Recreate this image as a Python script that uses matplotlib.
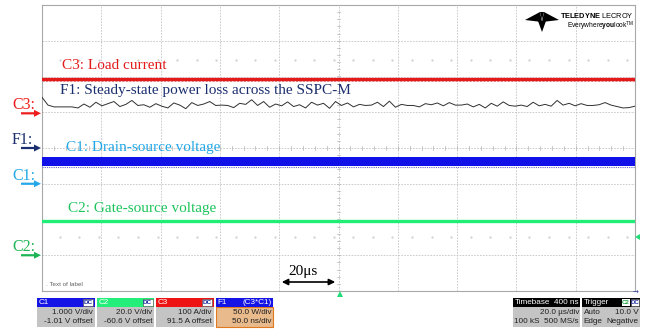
import numpy as np
import matplotlib
matplotlib.use('Agg')
import matplotlib.pyplot as plt
from matplotlib.patches import Rectangle, Polygon, FancyArrow

plt.rcParams['mathtext.fontset'] = 'custom'
plt.rcParams['mathtext.rm'] = 'Liberation Sans'
plt.rcParams['mathtext.bf'] = 'Liberation Sans:bold'

# screen positions of the traces, in divisions (10 x 8 grid, centre = 0)
c3_level = 1.93
c1_top = -0.24
c1_bottom = -0.50
c2_level = -2.03

# F1 power loss trace (divisions), 100 points over 10 div
f1_trace = [1.42, 1.20, 1.15, 1.15, 1.15, 1.15, 1.12, 1.23, 1.14, 1.28,
            1.18, 1.24, 1.30, 1.16, 1.22, 1.33, 1.19, 1.21, 1.14, 1.24,
            1.17, 1.12, 1.26, 1.20, 1.10, 1.27, 1.19, 1.23, 1.30, 1.19,
            1.20, 1.19, 1.13, 1.25, 1.22, 1.35, 1.19, 1.30, 1.14, 1.23,
            1.18, 1.29, 1.16, 1.21, 1.12, 1.28, 1.20, 1.25, 1.11, 1.30,
            1.19, 1.26, 1.15, 1.22, 1.19, 1.20, 1.28, 1.16, 1.31, 1.14,
            1.22, 1.19, 1.19, 1.15, 1.24, 1.21, 1.26, 1.18, 1.27, 1.20,
            1.20, 1.23, 1.15, 1.22, 1.12, 1.25, 1.17, 1.29, 1.19, 1.17,
            1.20, 1.16, 1.28, 1.18, 1.22, 1.17, 1.33, 1.20, 1.25, 1.18,
            1.24, 1.19, 1.19, 1.21, 1.27, 1.20, 1.16, 1.12, 1.13, 1.17]

# channel reference markers on the left edge (divisions)
markers = ['C3:', 'F1:', 'C1:', 'C2:']
marker_levels = [0.97, 0.0, -1.00, -3.0]
marker_colors = ['#ee1c1c', '#1b2f6e', '#22a8e8', '#1cb454']

# readout panels
panel_names = ['C1', 'C2', 'C3', 'F1']
panel_line1 = ['1.000 V/div', '20.0 V/div', '100 A/div', '50.0 W/div']
panel_line2 = ['-1.01 V offset', '-60.6 V offset', '91.5 A offset', '50.0 ns/div']
panel_colors = ['#1414e6', '#24ee7a', '#ee1414', '#1414e6']

RED = '#e41a1a'
NAVY = '#1b2f6e'
LBLUE = '#22a8e8'
GREEN = '#1cc45c'
SERIF = ['Liberation Serif', 'DejaVu Serif']
SANS = ['Liberation Sans', 'DejaVu Sans']
PFS = 5.9

W, H = 649, 331
fig = plt.figure(figsize=(W / 100, H / 100), dpi=100)

ax = fig.add_axes([42 / W, (H - 291) / H, 593 / W, 286 / H])
ax.set_xlim(0, 10)
ax.set_ylim(-4, 4)
ax.set_xticks([])
ax.set_yticks([])
for s in ax.spines.values():
    s.set_color('#a8a8a8')
    s.set_linewidth(0.8)

# grid
for gx in range(1, 10):
    ax.axvline(gx, color='#c4c4c4', lw=0.6, ls=(0, (2, 1.5)), zorder=1)
for gy in range(-3, 4):
    ax.axhline(gy, color='#c4c4c4', lw=0.6, ls=(0, (2, 1.5)), zorder=1)
# centre-line ticks
for tx in np.arange(0.2, 10, 0.2):
    ax.plot([tx, tx], [-0.06, 0.06], color='#b4b4b4', lw=0.5, zorder=1)
for ty in np.arange(-3.8, 4, 0.2):
    ax.plot([4.97, 5.03], [ty, ty], color='#b4b4b4', lw=0.5, zorder=1)
# faint dotted rows
dots_x = np.arange(0.3, 10, 0.33)
for ty in [2.45, -2.48]:
    ax.plot(dots_x, [ty] * len(dots_x), ls='none', marker='.', ms=1.2,
            color='#cfcfcf', zorder=1)

t = np.linspace(0, 10, len(f1_trace))
ax.plot([0, 10], [c3_level, c3_level], color=RED, lw=2.4, zorder=3)
ax.plot([0, 10], [c3_level - 0.06, c3_level - 0.06], color='#d06060', lw=0.5,
        ls=(0, (3, 2)), zorder=2)
ax.plot(t, f1_trace, color='#303030', lw=0.7, zorder=3)
ax.fill_between([0, 10], [c1_bottom, c1_bottom], [c1_top, c1_top],
                color='#1010e8', lw=0, zorder=3)
ax.plot([0, 10], [c1_bottom - 0.03, c1_bottom - 0.03], color='#6a6ad0', lw=0.8,
        ls=(0, (1, 1)), zorder=3)
ax.plot([0, 10], [c2_level, c2_level], color='#22ee77', lw=2.4, zorder=3)

# trace labels
ax.text(0.34, 2.32, 'C3: Load current', color=RED, fontsize=11,
        family=SERIF, va='center')
ax.text(0.31, 1.61, 'F1: Steady-state power loss across the SSPC-M',
        color=NAVY, fontsize=11, family=SERIF, va='center')
ax.text(0.41, 0.02, 'C1: Drain-source voltage', color=LBLUE, fontsize=11,
        family=SERIF, va='center')
ax.text(0.44, -1.70, 'C2: Gate-source voltage', color=GREEN, fontsize=11,
        family=SERIF, va='center')

# overlay in pixel coordinates
ov = fig.add_axes([0, 0, 1, 1])
ov.set_xlim(0, W)
ov.set_ylim(H, 0)
ov.axis('off')

for name, lvl, col in zip(markers, marker_levels, marker_colors):
    py = 148 - lvl * 35.75
    ov.text(12, py - 8, name, color=col, fontsize=11.5, family=SERIF,
            va='center')
    ov.add_patch(FancyArrow(21, py, 20, 0, width=2.2, head_width=7,
                            head_length=7, length_includes_head=True,
                            color=col, lw=0))

# 20 us scale arrow
ov.annotate('', xy=(279, 282), xytext=(338, 282),
            arrowprops=dict(arrowstyle='<|-|>', color='black', lw=1.2,
                            mutation_scale=9))
ov.text(303, 272, '20μs', fontsize=11, family=SERIF, ha='center', va='center')
ov.text(46, 285, '. Text of label', fontsize=4.5, family=SANS, color='#606060',
        va='center')

# trigger markers
ov.add_patch(Polygon([[337, 297], [343, 297], [340, 291]], color='#22dd77', lw=0))
ov.add_patch(Polygon([[635, 237], [640, 234], [640, 240]], color='#22dd77', lw=0))
ov.text(636, 293, '→', fontsize=5, color='#2a3a9a', va='center', ha='center')

# logo
ov.add_patch(Polygon([[525, 20], [540, 12], [542, 22]], color='black', lw=0))
ov.add_patch(Polygon([[559, 20], [544, 12], [542, 22]], color='black', lw=0))
ov.add_patch(Polygon([[538, 21], [546, 21], [542, 32]], color='black', lw=0))
ov.add_patch(Polygon([[540, 12], [544, 12], [542, 20]], color='black', lw=0))
ov.text(634, 16, r'$\mathbf{TELEDYNE}$ LECROY', fontsize=5.3, family=SANS,
        va='center', ha='right')
ov.text(634, 26.5, r'Everywhere$\mathbf{you}$look$^{\rm TM}$', fontsize=4.8,
        family=SANS, va='center', ha='right')

# channel readout panels
x0 = 37
for i in range(4):
    px = x0 + i * 59.5
    is_f1 = panel_names[i] == 'F1'
    body = '#e8ba8c' if is_f1 else '#c4c4c4'
    ov.add_patch(Rectangle((px, 307), 57.5, 20, facecolor=body,
                           edgecolor='#e07a20' if is_f1 else 'none', lw=0.8))
    ov.add_patch(Rectangle((px, 298), 57.5, 9, facecolor=panel_colors[i], lw=0))
    ov.text(px + 2, 302.5, panel_names[i], fontsize=PFS, family=SANS,
            color='white', va='center')
    if is_f1:
        ov.text(px + 56.5, 302.5, '(C3*C1)', fontsize=PFS, family=SANS,
                color='white', va='center', ha='right')
    else:
        ov.add_patch(Rectangle((px + 46, 299.3), 10, 7, facecolor='white',
                               edgecolor='#404040', lw=0.4))
        ov.text(px + 51, 302.8, 'DC', fontsize=4.6, family=SANS,
                color='#2030a0', va='center', ha='center', weight='bold')
    ov.text(px + 56, 312, panel_line1[i], fontsize=PFS, family=SANS,
            color='#202020', va='center', ha='right')
    ov.text(px + 56, 321.5, panel_line2[i], fontsize=PFS, family=SANS,
            color='#202020', va='center', ha='right')

# timebase / trigger panels
tb_rows = [['Timebase', '400 ns'], ['', '20.0 µs/div'], ['100 kS', '500 MS/s']]
tr_rows = [['Trigger', ''], ['Auto', '10.0 V'], ['Edge', 'Negative']]
for px, pw, rows in [(513, 67, tb_rows), (582, 57.5, tr_rows)]:
    ov.add_patch(Rectangle((px, 307), pw, 20, facecolor='#c4c4c4', lw=0))
    ov.add_patch(Rectangle((px, 298), pw, 9, facecolor='black', lw=0))
    for j, (lt, rt) in enumerate(rows):
        yy = [302.5, 312, 321.5][j]
        c = 'white' if j == 0 else '#202020'
        ov.text(px + 1.5, yy, lt, fontsize=PFS, family=SANS, color=c,
                va='center')
        ov.text(px + pw - 1, yy, rt, fontsize=PFS, family=SANS, color=c,
                va='center', ha='right')
ov.add_patch(Rectangle((621.5, 299.3), 8, 7, facecolor='white', lw=0))
ov.text(625.5, 302.8, 'C2', fontsize=4.4, family=SANS, color='#20a040',
        va='center', ha='center', weight='bold')
ov.add_patch(Rectangle((630.5, 299.3), 8.5, 7, facecolor='white',
                       edgecolor='#404040', lw=0.4))
ov.text(634.7, 302.8, 'DC', fontsize=4.4, family=SANS, color='#2030a0',
        va='center', ha='center', weight='bold')

fig.savefig('out.png', dpi=100)
